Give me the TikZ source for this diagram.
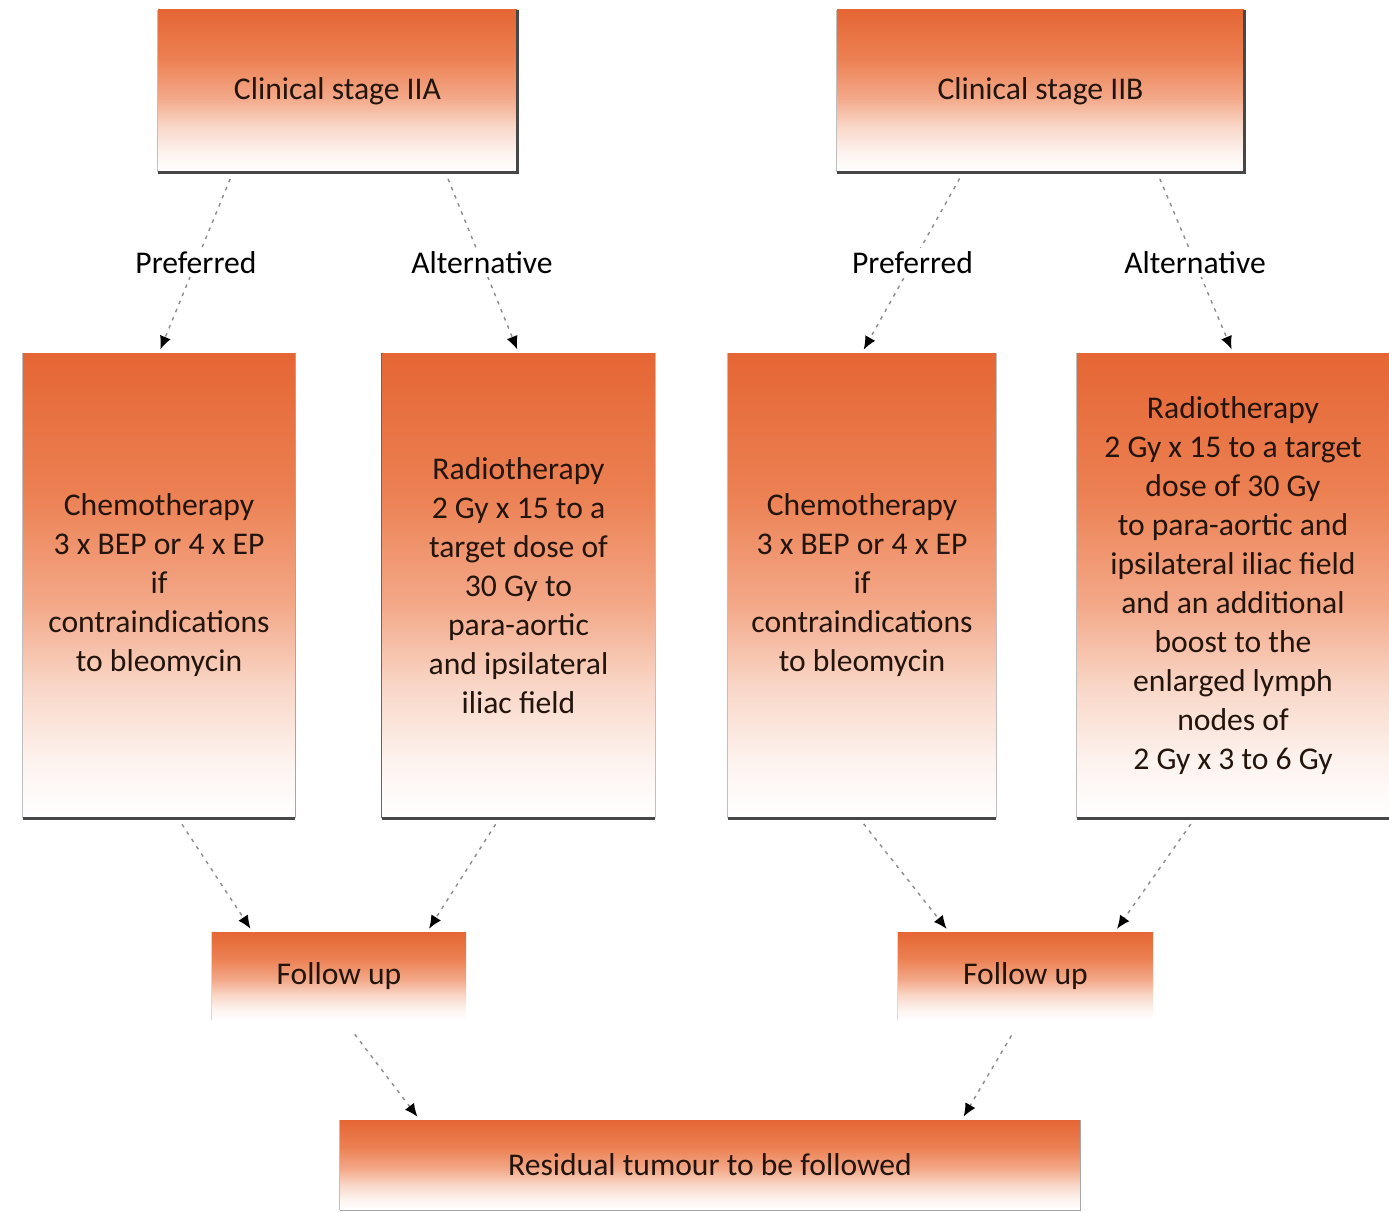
\documentclass[tikz,border=0pt]{standalone}
\usepackage{fontspec}
\setmainfont{Carlito}
\usetikzlibrary{calc,arrows.meta}
\definecolor{ctop}{RGB}{229,102,52}
\definecolor{cA}{RGB}{236,128,82}
\definecolor{cB}{RGB}{243,168,136}
\definecolor{cC}{RGB}{249,215,200}
\definecolor{cD}{RGB}{253,243,239}
\definecolor{txt}{RGB}{35,20,12}
\pgfdeclareverticalshading{boxshade}{100bp}{color(0bp)=(white); color(25bp)=(white); color(31bp)=(cD); color(39bp)=(cC); color(48bp)=(cB); color(60bp)=(cA); color(75bp)=(ctop); color(100bp)=(ctop)}
\begin{document}
\begin{tikzpicture}[x=0.02cm,y=-0.02cm,
  bx/.style 2 args={shading=boxshade, inner sep=0pt, minimum width={#1*0.02cm}, minimum height={#2*0.02cm}, align=center, text=txt, font=\fontsize{18}{22.2}\selectfont},
  dk/.style={draw=black!72, line width=1.4pt},
  lt/.style={draw=gray!50, line width=0.6pt},
  conn/.style={draw=gray!90, line width=0.8pt, dash pattern=on 2pt off 3pt, -{Latex[length=7.5pt,width=6.5pt,black]}, shorten <=4pt, shorten >=2pt},
  lbl/.style={fill=white, inner sep=2pt, text=black, font=\fontsize{18}{22.2}\selectfont}]
\useasboundingbox (0,0) rectangle (1389,1213);
\fill[white] (0,0) rectangle (1389,1213);

% nodes
\node[bx={359}{162}] (ia) at (337.5,91) {Clinical stage IIA};
\node[bx={407}{162}] (ib) at (1040.5,91) {Clinical stage IIB};
\node[bx={272}{465}] (cha) at (159,585.5) {Chemotherapy\\3 x BEP or 4 x EP\\if\\contraindications\\to bleomycin};
\node[bx={273}{465}] (rta) at (518.5,585.5) {Radiotherapy\\2 Gy x 15 to a\\target dose of\\30 Gy to\\para-aortic\\and ipsilateral\\iliac field};
\node[bx={268}{465}] (chb) at (862,585.5) {Chemotherapy\\3 x BEP or 4 x EP\\if\\contraindications\\to bleomycin};
\node[bx={312}{465}] (rtb) at (1233,585.5) {Radiotherapy\\2 Gy x 15 to a target\\dose of 30 Gy\\to para-aortic and\\ipsilateral iliac field\\and an additional\\boost to the\\enlarged lymph\\nodes of\\2 Gy x 3 to 6 Gy};
\node[bx={254}{88}] (fua) at (339,976) {Follow up};
\node[bx={255}{88}] (fub) at (1025.5,976) {Follow up};
\node[bx={740}{90}] (res) at (710,1165) {Residual tumour to be followed};

% box edges
\draw[lt] (ia.south west) -- (ia.north west);
\draw[dk] (ia.north east) -- (ia.south east) -- (ia.south west);
\draw[lt] (ib.south west) -- (ib.north west);
\draw[dk] (ib.north east) -- (ib.south east) -- (ib.south west);
\draw[lt] (cha.south west) -- (cha.north west);
\draw[draw=gray!70, line width=0.6pt] (cha.south east) -- (cha.north east);
\draw[dk] (cha.south west) -- (cha.south east);
\draw[draw=black!60, line width=0.9pt] (rta.south west) -- (rta.north west);
\draw[lt] (rta.south east) -- (rta.north east);
\draw[dk] (rta.south west) -- (rta.south east);
\draw[lt] (chb.south west) -- (chb.north west);
\draw[lt] (chb.south east) -- (chb.north east);
\draw[dk] (chb.south west) -- (chb.south east);
\draw[lt] (rtb.south west) -- (rtb.north west);
\draw[dk] (rtb.south west) -- (rtb.south east);
\draw[draw=gray!30, line width=0.5pt] (fua.south west) -- (fua.north west);
\draw[draw=gray!30, line width=0.5pt] (fub.south west) -- (fub.north west);
\draw[lt] (res.south west) -- (res.north west);
\draw[draw=gray!70, line width=0.7pt] (res.north east) -- (res.south east) -- (res.south west);

% connectors
\draw[conn] ($(ia.south west)!0.209!(ia.south east)$) -- node[lbl] {Preferred} (cha.north);
\draw[conn] ($(ia.south west)!0.80!(ia.south east)$) -- node[lbl] {Alternative} (rta.north);
\draw[conn] ($(ib.south west)!0.31!(ib.south east)$) -- node[lbl] {Preferred} (chb.north);
\draw[conn] ($(ib.south west)!0.786!(ib.south east)$) -- node[lbl] {Alternative} (rtb.north);

\draw[conn] ($(cha.south west)!0.57!(cha.south east)$) -- ($(fua.north west)!0.16!(fua.north east)$);
\draw[conn] ($(rta.south west)!0.43!(rta.south east)$) -- ($(fua.north west)!0.846!(fua.north east)$);
\draw[conn] ($(chb.south west)!0.49!(chb.south east)$) -- ($(fub.north west)!0.2!(fub.north east)$);
\draw[conn] ($(rtb.south west)!0.378!(rtb.south east)$) -- ($(fub.north west)!0.85!(fub.north east)$);

\draw[conn, shorten <=10pt] ($(fua.south west)!0.52!(fua.south east)$) -- ($(res.north west)!0.108!(res.north east)$);
\draw[conn, shorten <=10pt] ($(fub.south west)!0.48!(fub.south east)$) -- ($(res.north west)!0.84!(res.north east)$);
\end{tikzpicture}
\end{document}
